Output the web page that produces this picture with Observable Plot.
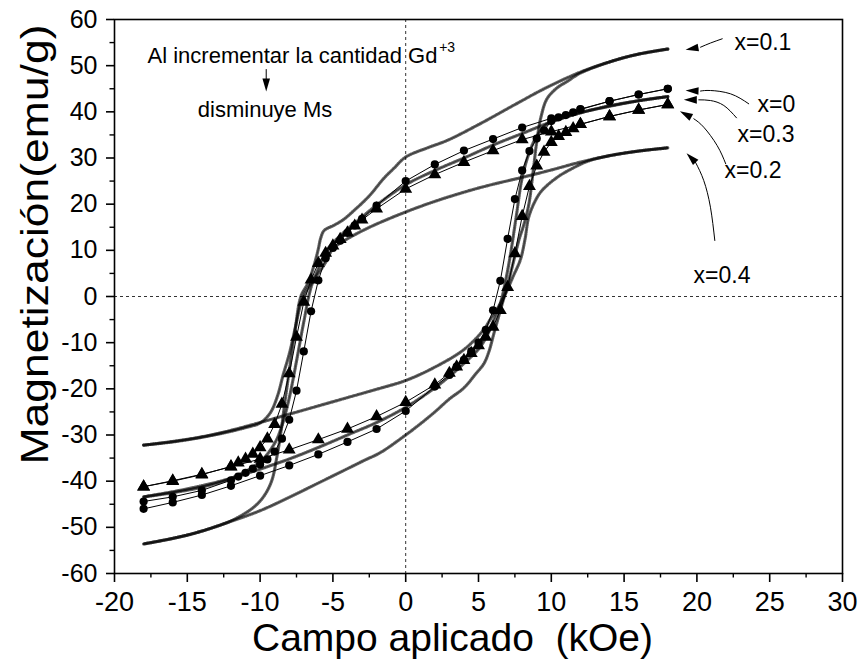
<!DOCTYPE html>
<html><head><meta charset="utf-8">
<script src="https://cdn.jsdelivr.net/npm/d3@7"></script>
<script src="https://cdn.jsdelivr.net/npm/@observablehq/plot@0.6"></script>
<style>
html,body{margin:0;padding:0;background:#fff;}
#chart{width:859px;height:661px;}
svg{display:block;}
</style></head><body><div id="chart"></div>
<script>
// ---- Data: field H (kOe), magnetization M (emu/g) ----
// x = 0 (filled circles)
const desc_x0 = [[18,45.0],[16,43.75],[14,42.3],[12,40.6],[10,38.6],[8,36.6],[6,34.1],[4,31.6],[2,28.6],[0,25.0],[-2,19.7],[-3,16.8],[-3.5,15.4],[-4,13.8],[-4.5,12.1],[-5,10.5],[-5.5,8.3],[-6,3.5],[-6.5,-3.2],[-7,-11.9],[-7.5,-20.4],[-8,-26.7],[-8.5,-30.8],[-9,-33.6],[-9.5,-35.3],[-10,-36.4],[-10.5,-37.3],[-11,-38.2],[-11.5,-39.0],[-12,-39.8],[-14,-42.0],[-16,-43.4],[-18,-44.4]];
const asc_x0 = [[-18,-46.0],[-16,-44.6],[-14,-43.0],[-12,-41.0],[-10,-38.8],[-8,-36.6],[-6,-34.2],[-4,-31.5],[-2,-28.7],[0,-24.8],[2,-19.5],[3,-17.0],[3.5,-15.2],[4,-13.7],[4.5,-11.9],[5,-10.0],[5.5,-7.2],[6,-3.0],[6.5,3.4],[7,12.5],[7.5,21.1],[8,27.3],[8.5,31.5],[9,34.2],[9.5,36.0],[10,38.0],[10.5,38.8],[11,39.3],[11.5,39.9],[12,40.5],[14,42.3],[16,43.75],[18,45.0]];
// x = 0.2 (filled triangles)
const desc_x02 = [[18,41.6],[16,40.4],[14,39.0],[12,37.3],[10,35.7],[8,34.0],[6,31.6],[4,29.1],[2,26.4],[0,23.3],[-2,19.0],[-3,16.6],[-3.5,15.3],[-4,13.8],[-4.5,12.4],[-5,11.0],[-5.5,9.4],[-6,7.2],[-6.5,3.6],[-7,-1.2],[-7.5,-8.8],[-8,-16.7],[-8.5,-23.3],[-9,-27.7],[-9.5,-30.8],[-10,-32.7],[-10.5,-34.1],[-11,-35.2],[-11.5,-36.0],[-12,-36.8],[-14,-38.6],[-16,-40.0],[-18,-41.2]];
const asc_x02 = [[-18,-41.2],[-16,-39.9],[-14,-38.5],[-12,-36.9],[-10,-35.2],[-8,-33.2],[-6,-31.0],[-4,-28.7],[-2,-26.0],[0,-22.9],[2,-19.1],[3,-16.6],[3.5,-15.2],[4,-13.8],[4.5,-12.3],[5,-10.6],[5.5,-8.8],[6,-6.6],[6.5,-3.0],[7,2.0],[7.5,9.3],[8,17.4],[8.5,23.9],[9,28.3],[9.5,31.3],[10,33.4],[10.5,34.7],[11,35.6],[11.5,36.4],[12,37.3],[14,39.0],[16,40.4],[18,41.6]];
// x = 0.1 (dense small markers)
const desc_x01 = [[18,53.6],[16,52.5],[14.3,51.1],[12,48.6],[9.7,45.3],[7.4,41.4],[5.1,37.4],[2.85,33.8],[1.5,32.2],[0,30.2],[-0.8,27.8],[-1.5,25.6],[-2.5,21.8],[-3.56,18.6],[-4.3,16.6],[-4.94,15.4],[-5.6,14.3],[-5.85,12.5],[-6.0,10.3],[-6.3,6.7],[-6.7,3.0],[-7.2,0],[-7.6,-7.4],[-7.95,-15],[-8.3,-23],[-8.6,-30],[-8.85,-34.8],[-9.2,-39.9],[-9.75,-43.3],[-10.5,-45.8],[-12,-48.6],[-14.3,-51.1],[-16,-52.4],[-18,-53.6]];
const asc_x01 = [[-18,-53.6],[-16,-52.4],[-14.3,-51.1],[-12,-48.7],[-10,-46.4],[-8,-43.5],[-6,-40.4],[-4,-37.3],[-2.85,-35.5],[-1.73,-33.8],[0,-30.0],[1,-27.6],[1.93,-25.2],[3,-22.2],[4,-19.8],[4.8,-16.8],[5.36,-14.6],[5.7,-12.1],[6.05,-8.1],[6.5,-3.0],[7.0,2.5],[7.4,7.5],[7.8,12.5],[8.11,15.5],[8.46,20.0],[8.75,27.0],[9.0,33.5],[9.3,39.0],[9.7,42.8],[10.4,45.2],[11.1,46.6],[12,48.4],[14.3,51.1],[16,52.5],[18,53.6]];
// x = 0.3 (dense small markers)
const desc_x03 = [[18,43.3],[16,42.4],[14,41.2],[12,39.8],[10,37.8],[8,35.3],[6,32.8],[4,30.0],[2,27.3],[0,24.2],[-2,19.8],[-3,17.2],[-4,14.6],[-5,11.6],[-5.5,9.6],[-6,6.0],[-6.5,2.0],[-7,-5.5],[-7.5,-14],[-8,-22],[-8.5,-28],[-9,-31.8],[-10,-35.8],[-12,-39.4],[-14,-41.3],[-16,-42.5],[-18,-43.4]];
const asc_x03 = [[-18,-43.4],[-16,-42.3],[-14,-41.0],[-12,-39.4],[-10,-37.4],[-8,-35.2],[-6,-32.7],[-4,-30.0],[-2,-27.3],[0,-24.0],[2,-19.8],[3,-17.3],[4,-14.5],[5,-11.4],[5.5,-9.0],[6,-5.5],[6.5,-1.5],[6.9,4.0],[7.2,9.2],[7.6,17.5],[8.0,25.7],[8.5,31.3],[9,34.7],[9.7,37.4],[10.5,38.4],[12,39.8],[14,41.3],[16,42.4],[18,43.3]];
// x = 0.4 (dense small markers)
const desc_x04 = [[18,32.2],[16,31.5],[14,30.5],[12,29.1],[10,27.4],[8,25.8],[6,24.3],[4.45,23.0],[2,20.6],[0,18.3],[-2,15.7],[-3,14.2],[-4,12.5],[-5,10.3],[-5.5,7.4],[-6,5.0],[-6.5,2.8],[-6.9,0.8],[-7.2,-1.5],[-7.6,-7.0],[-8.0,-12.5],[-8.4,-16.8],[-8.8,-21.5],[-9.3,-25.2],[-10,-27.4],[-11,-28.4],[-12,-29.2],[-14,-30.5],[-16,-31.5],[-18,-32.2]];
const asc_x04 = [[-18,-32.2],[-16,-31.4],[-14,-30.4],[-12,-29.0],[-10,-27.3],[-8,-25.5],[-6,-23.7],[-4,-21.9],[-2,-20.1],[0,-18.2],[2,-15.3],[4,-11.5],[5.36,-7.2],[5.8,-5.0],[6.3,-2.6],[6.85,0.6],[7.4,4.5],[7.88,8.0],[8.2,12.5],[8.45,17.2],[8.91,20.8],[9.37,23.0],[10.4,25.8],[11.3,27.5],[12.5,29.3],[14,30.5],[16,31.5],[18,32.2]];

// ---- Axis ticks ----
const xTicks = [-20,-15,-10,-5,0,5,10,15,20,25,30];
const xMinor = [-17.5,-12.5,-7.5,-2.5,2.5,7.5,12.5,17.5,22.5,27.5];
const yTicks = [-60,-50,-40,-30,-20,-10,0,10,20,30,40,50,60];
const yMinor = [-55,-45,-35,-25,-15,-5,5,15,25,35,45,55];

// ---- Texts ----
const xTitle = "Campo aplicado\u00a0 (kOe)";
const yTitle = "Magnetización(emu/g)";
const seriesLabels = [
  {text:"x=0.1", h:22.58, m:53.3},
  {text:"x=0",   h:24.16, m:40.07},
  {text:"x=0.3", h:22.79, m:33.57},
  {text:"x=0.2", h:21.9,  m:25.56},
  {text:"x=0.4", h:19.77, m:3.03}
];
const noteLines = [
  {text:"Al incrementar la cantidad Gd", h:-17.73, m:50.53, anchor:"start", size:22},
  {text:"disminuye Ms", h:-9.66, m:38.83, anchor:"middle", size:22}
];
const noteSup = [{text:"+3", h:2.3, m:52.9}];
// Arrow bodies (polyline in data units) and heads (base -> tip)
const arrowBodies = [
  [[21.74,55.82],[20.93,54.9],[20.25,54.0]],
  [[23.56,41.74],[22.31,43.9],[20.93,44.62],[20.25,44.5]],
  [[22.72,38.7],[21.85,41.37],[20.93,42.45],[20.13,42.6]],
  [[21.98,28.74],[21.39,32.7],[20.47,36.67],[19.79,38.49]],
  [[21.23,12.13],[20.93,19.34],[20.47,25.12],[19.9,29.09]],
  [[-9.58,49.17],[-9.58,46.35]]
];
const arrowHeads = [
  {base:[20.25,54.0], tip:[19.22,53.43]},
  {base:[20.25,44.5], tip:[19.22,44.62]},
  {base:[20.13,42.6], tip:[19.1,42.6]},
  {base:[19.79,38.49], tip:[18.83,40.13]},
  {base:[19.9,29.09], tip:[19.29,31.04]},
  {base:[-9.58,46.35], tip:[-9.58,44.4]}
];

// ---- Layout ----
const W = 859, H = 661, mL = 114, mR = 17, mT = 19, mB = 88;
const xDom = [-20, 30], yDom = [-60, 60];
const kx = (W - mL - mR) / (xDom[1] - xDom[0]);
const ky = (H - mT - mB) / (yDom[1] - yDom[0]);

function headSymbol(dxs, dys, L, Wd) {
  const a = Math.atan2(dys, dxs), c = Math.cos(a), s = Math.sin(a);
  return {draw(ctx) {
    const bx = -L * c, by = -L * s, px = -s, py = c;
    ctx.moveTo(0, 0);
    ctx.lineTo(bx + Wd * px, by + Wd * py);
    ctx.lineTo(bx - Wd * px, by - Wd * py);
    ctx.closePath();
  }};
}

const X = d => d[0], Y = d => d[1];
const FONT = "'Liberation Sans', Arial, Helvetica, sans-serif";

function denseLoop(desc, asc) {
  const out = [];
  for (const br of [desc, asc]) {
    out.push(Plot.line(br, {x: X, y: Y, curve: "catmull-rom", stroke: "#000", strokeWidth: 3.2, strokeDasharray: "1,1.3", strokeOpacity: 0.62}));
    out.push(Plot.line(br, {x: X, y: Y, curve: "catmull-rom", stroke: "#000", strokeWidth: 0.6, strokeOpacity: 0.7}));
  }
  return out;
}
function markerLoop(desc, asc, symbol, r) {
  return [
    Plot.line(desc, {x: X, y: Y, stroke: "#000", strokeWidth: 1}),
    Plot.line(asc, {x: X, y: Y, stroke: "#000", strokeWidth: 1}),
    Plot.dot(desc, {x: X, y: Y, symbol, r, fill: "#000", stroke: "none"}),
    Plot.dot(asc, {x: X, y: Y, symbol, r, fill: "#000", stroke: "none"})
  ];
}

const headMarks = arrowHeads.map(a => {
  const dxs = (a.tip[0] - a.base[0]) * kx, dys = -(a.tip[1] - a.base[1]) * ky;
  return Plot.dot([a.tip], {x: X, y: Y, r: 6, fill: "#000", stroke: "none", symbol: headSymbol(dxs, dys, 13, 3.8)});
});

const chart = Plot.plot({
  width: W, height: H,
  marginLeft: mL, marginRight: mR, marginTop: mT, marginBottom: mB,
  style: {fontFamily: FONT, background: "#fff", overflow: "visible", color: "#000"},
  x: {domain: xDom},
  y: {domain: yDom},
  marks: [
    Plot.ruleX([0], {stroke: "#333", strokeWidth: 1, strokeDasharray: "3,3"}),
    Plot.ruleY([0], {stroke: "#333", strokeWidth: 1, strokeDasharray: "3,3"}),
    ...denseLoop(desc_x01, asc_x01),
    ...denseLoop(desc_x03, asc_x03),
    ...denseLoop(desc_x04, asc_x04),
    ...markerLoop(desc_x0, asc_x0, "circle", 4.1),
    ...markerLoop(desc_x02, asc_x02, "triangle", 4.8),
    Plot.axisX({ticks: xTicks, tickSize: 9, tickPadding: 9, fontSize: 27, tickFormat: d => String(d), label: null, strokeWidth: 1.6}),
    Plot.axisX({ticks: xMinor, tickSize: 4.5, tickFormat: () => "", label: null, strokeWidth: 1.4}),
    Plot.axisY({ticks: yTicks, tickSize: 8, tickPadding: 9, fontSize: 25, tickFormat: d => String(d), label: null, strokeWidth: 1.6}),
    Plot.axisY({ticks: yMinor, tickSize: 4.5, tickFormat: () => "", label: null, strokeWidth: 1.4}),
    Plot.frame({stroke: "#000", strokeWidth: 1.6}),
    Plot.text([xTitle], {frameAnchor: "bottom", dx: -26, dy: 77, lineAnchor: "bottom", textAnchor: "middle", fontSize: 39, text: d => d}),
    Plot.text([yTitle], {frameAnchor: "left", rotate: -90, dx: -79, dy: -52, textAnchor: "middle", lineAnchor: "middle", fontSize: 38, text: d => d}),
    Plot.text(seriesLabels, {x: "h", y: "m", text: "text", textAnchor: "start", lineAnchor: "bottom", fontSize: 23}),
    ...noteLines.map(n => Plot.text([n], {x: "h", y: "m", text: "text", textAnchor: n.anchor, lineAnchor: "bottom", fontSize: n.size})),
    Plot.text(noteSup, {x: "h", y: "m", text: "text", textAnchor: "start", lineAnchor: "bottom", fontSize: 14}),
    ...arrowBodies.map(b => Plot.line(b, {x: X, y: Y, curve: "natural", stroke: "#000", strokeWidth: 1})),
    ...headMarks
  ]
});
// stretch the y title along its length, as in the reference
d3.select(chart).selectAll("text").filter(function() { return this.textContent === yTitle; })
  .attr("textLength", 440).attr("lengthAdjust", "spacingAndGlyphs");
document.getElementById("chart").appendChild(chart);
</script>
</body></html>
